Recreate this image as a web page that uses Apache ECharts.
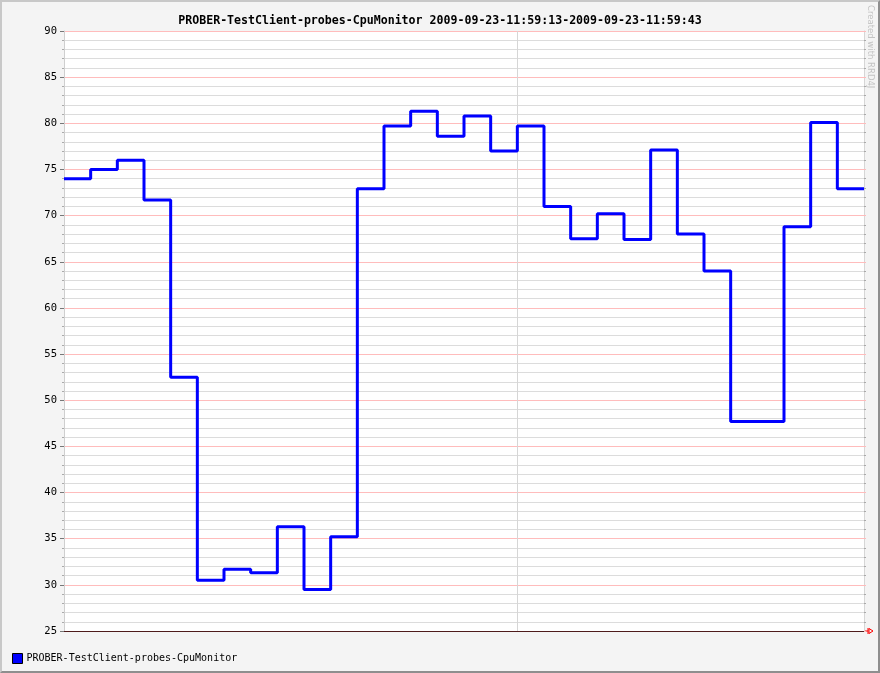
<!DOCTYPE html>
<html>
<head>
<meta charset="utf-8">
<script src="https://cdn.jsdelivr.net/npm/echarts@6/dist/echarts.min.js"></script>
<style>
  html, body { margin: 0; padding: 0; background: #f4f4f4; }
  #frame {
    width: 876px; height: 669px;
    border-top: 2px solid #c8c8c8; border-left: 2px solid #c8c8c8;
    border-right: 2px solid #8e8e8e; border-bottom: 2px solid #8e8e8e;
    background: #f4f4f4;
  }
  #chart { width: 876px; height: 669px; }
</style>
</head>
<body>
<div id="frame"><div id="chart"></div></div>
<script>
// one sample per second, 11:59:13 .. 11:59:43
const seriesName = 'PROBER-TestClient-probes-CpuMonitor'
const startTime = '2009-09-23-11:59:13'
const endTime = '2009-09-23-11:59:43'
const cpuValues = [
  74.0, 75.0, 76.0, 71.7, 52.5, 30.5, 31.7, 31.3, 36.3, 29.5,
  35.2, 72.9, 79.7, 81.3, 78.6, 80.8, 77.0, 79.7, 71.0, 67.5,
  70.2, 67.4, 77.1, 68.0, 64.0, 47.7, 47.7, 68.8, 80.1, 72.9
]
const yTicks = [25, 30, 35, 40, 45, 50, 55, 60, 65, 70, 75, 80, 85, 90]

const mono = 'DejaVu Sans Mono'

// step line: each sample holds until the next second
const stepData = cpuValues.map((v, i) => [i, v])
stepData.push([cpuValues.length, cpuValues[cpuValues.length - 1]])

const chart = echarts.init(document.getElementById('chart'))
const option = {
  animation: false,
  backgroundColor: '#f4f4f4',
  title: {
    text: seriesName + ' ' + startTime + '-' + endTime,
    left: 'center',
    top: 8,
    textStyle: { fontFamily: mono, fontWeight: 'bold', fontSize: 11.6, color: '#000' }
  },
  legend: {
    left: 5,
    top: 646,
    icon: 'rect',
    itemWidth: 10,
    itemHeight: 10,
    itemGap: 4,
    textStyle: { fontFamily: mono, fontSize: 10, color: '#000', padding: [0, 0, 0, -1] },
    itemStyle: { color: '#0000ff', borderColor: '#000', borderWidth: 1 },
    data: [seriesName]
  },
  grid: { left: 62, right: 14, top: 29, bottom: 40, show: true, backgroundColor: '#fff', borderWidth: 0 },
  xAxis: {
    type: 'value',
    min: 0,
    max: cpuValues.length,
    interval: 17,
    axisLine: { show: true, lineStyle: { color: '#4e1b1b', width: 1.2 } },
    axisTick: { show: false },
    axisLabel: { show: false },
    splitLine: { show: true, lineStyle: { color: '#d6d6d6', width: 1 } }
  },
  yAxis: [{
    type: 'value',
    min: yTicks[0],
    max: yTicks[yTicks.length - 1],
    interval: 5,
    axisLine: { show: true, lineStyle: { color: '#cfcfcf' } },
    axisTick: { show: true, length: 4, lineStyle: { color: '#777' } },
    minorTick: { show: true, splitNumber: 5, length: 2, lineStyle: { color: '#aaa' } },
    axisLabel: { fontFamily: mono, fontSize: 10.5, color: '#000', margin: 7 },
    splitLine: { show: true, lineStyle: { color: '#ffbcbc', width: 1 } },
    minorSplitLine: { show: true, lineStyle: { color: '#dcdcdc', width: 1 } }
  }, {
    type: 'value',
    position: 'right',
    min: yTicks[0],
    max: yTicks[yTicks.length - 1],
    interval: 5,
    axisLine: { show: true, lineStyle: { color: '#d6d6d6' } },
    axisTick: { show: true, inside: false, length: 2, lineStyle: { color: '#ffbcbc' } },
    minorTick: { show: true, splitNumber: 5, length: 2, lineStyle: { color: '#aaa' } },
    axisLabel: { show: false },
    splitLine: { show: false }
  }],
  series: [{
    name: seriesName,
    type: 'line',
    step: 'end',
    data: stepData,
    showSymbol: false,
    lineStyle: { color: '#0000ff', width: 3 },
    itemStyle: { color: '#0000ff' },
    z: 5
  }],
  graphic: []
}
chart.setOption(option)

// red arrow at the end of the time axis + RRD4J watermark
const end = chart.convertToPixel({ gridIndex: 0 }, [cpuValues.length, yTicks[0]])
chart.setOption({
  graphic: [
    {
      type: 'polyline',
      shape: { points: [[end[0], end[1]], [end[0] + 4, end[1]]] },
      style: { stroke: '#ff0000', lineWidth: 1 }
    },
    {
      type: 'polyline',
      shape: { points: [[end[0] + 4, end[1] - 3], [end[0] + 4, end[1] + 3]] },
      style: { stroke: '#ff0000', lineWidth: 1 }
    },
    {
      type: 'polygon',
      shape: { points: [[end[0] + 5, end[1] - 2.5], [end[0] + 9, end[1]], [end[0] + 5, end[1] + 2.5]] },
      style: { stroke: '#ff0000', fill: 'none', lineWidth: 1 }
    },
    {
      type: 'text',
      x: 864,
      y: 3,
      rotation: -Math.PI / 2,
      style: {
        text: 'Created with RRD4J',
        fontFamily: 'DejaVu Sans',
        fontSize: 8.5,
        fill: '#c4c4c4',
        textVerticalAlign: 'bottom'
      }
    }
  ]
})
</script>
</body>
</html>
